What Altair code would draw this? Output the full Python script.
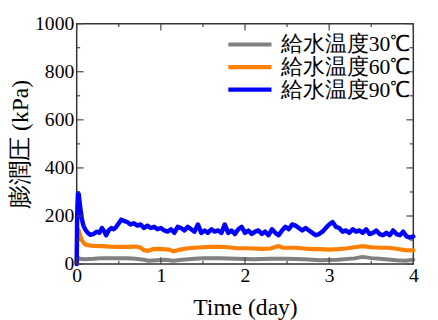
import altair as alt
import pandas as pd

labels = ["給水温度30℃", "給水温度60℃", "給水温度90℃"]
colors = ["#808080", "#ff8000", "#0000ff"]
widths = [4, 4.5, 6.5]

t30 = [0, 0.01, 0.03, 0.1, 0.2, 0.3, 0.4, 0.5, 0.6, 0.7, 0.8, 0.85, 0.95, 1.05,
       1.15, 1.25, 1.4, 1.5, 1.7, 1.9, 2.1, 2.3, 2.5, 2.7, 2.9, 3.1, 3.3, 3.4,
       3.5, 3.6, 3.8, 3.9, 4.0]
v30 = [0, 30, 22, 20, 22, 25, 24, 25, 24, 22, 18, 14, 16, 18,
       14, 18, 22, 24, 24, 22, 20, 22, 22, 20, 16, 18, 24, 30,
       25, 22, 16, 14, 18]

t60 = [0, 0.005, 0.02, 0.04, 0.06, 0.08, 0.1, 0.15, 0.2, 0.3, 0.4, 0.5, 0.6,
       0.7, 0.75, 0.8, 0.85, 0.9, 1.0, 1.1, 1.15, 1.2, 1.3, 1.4, 1.5, 1.6,
       1.7, 1.8, 1.9, 2.0, 2.1, 2.2, 2.3, 2.4, 2.45, 2.6, 2.7, 2.8, 2.9, 3.0,
       3.1, 3.2, 3.3, 3.4, 3.5, 3.6, 3.7, 3.8, 3.9, 4.0]
v60 = [0, 100, 145, 120, 100, 90, 82, 78, 76, 75, 73, 72, 72,
       73, 70, 58, 55, 62, 63, 60, 53, 58, 65, 68, 70, 72,
       72, 70, 66, 66, 65, 63, 65, 75, 68, 68, 65, 62, 62, 60,
       62, 65, 70, 75, 70, 68, 68, 64, 58, 57]

t90 = [0, 0.005, 0.015, 0.025, 0.04, 0.06, 0.08, 0.1, 0.13, 0.16, 0.2, 0.24,
       0.27, 0.3, 0.33, 0.35, 0.38, 0.41, 0.44, 0.47, 0.5, 0.53, 0.56, 0.6,
       0.64, 0.68, 0.72, 0.76, 0.8, 0.84, 0.88, 0.92, 0.96, 1.0, 1.04, 1.08,
       1.12, 1.16, 1.2, 1.24, 1.28, 1.32, 1.36, 1.4, 1.44, 1.48, 1.52, 1.56,
       1.6, 1.64, 1.68, 1.72, 1.76, 1.8, 1.84, 1.88, 1.92, 1.96, 2.0, 2.04,
       2.08, 2.12, 2.16, 2.2, 2.24, 2.28, 2.32, 2.36, 2.4, 2.44, 2.48, 2.52,
       2.56, 2.6, 2.64, 2.68, 2.72, 2.76, 2.8, 2.84, 2.88, 2.92, 2.96, 3.0,
       3.04, 3.08, 3.12, 3.16, 3.2, 3.24, 3.28, 3.32, 3.36, 3.4, 3.44, 3.48,
       3.52, 3.56, 3.6, 3.64, 3.68, 3.72, 3.76, 3.8, 3.84, 3.88, 3.92, 3.96, 4.0]
v90 = [0, 200, 295, 290, 240, 190, 160, 145, 130, 122, 125, 135,
       130, 150, 135, 120, 140, 150, 145, 155, 170, 185, 180, 175,
       165, 170, 160, 165, 150, 160, 150, 155, 145, 150, 140, 135,
       145, 130, 155, 150, 140, 155, 145, 135, 165, 130, 140, 130,
       145, 135, 140, 130, 165, 130, 140, 125, 145, 155, 130, 140,
       125, 135, 140, 125, 135, 120, 145, 130, 120, 140, 155, 145,
       165, 160, 150, 140, 150, 140, 130, 120, 125, 135, 150, 165,
       175, 155, 150, 135, 140, 130, 145, 135, 140, 130, 145, 125,
       130, 140, 125, 120, 130, 120, 140, 125, 120, 135, 115, 110, 115]

x_major = [0, 1, 2, 3, 4]
x_minor = [0.5, 1.5, 2.5, 3.5]
y_major = [0, 200, 400, 600, 800, 1000]
y_minor = [100, 300, 500, 700, 900]

rows = []
for i, (ts, vs) in enumerate([(t30, v30), (t60, v60), (t90, v90)]):
    for t, v in zip(ts, vs):
        rows.append({"series": labels[i], "t": t, "v": v})
df = pd.DataFrame(rows)

W, H = 343, 245
FONT = "Times New Roman"
xs = alt.Scale(domain=[0, 4], nice=False, zero=False)
ys = alt.Scale(domain=[0, 1000], nice=False)

x_axis = alt.Axis(values=x_major, ticks=False, domain=False, grid=False,
                  labelFont=FONT, labelFontSize=20, labelColor="#000", labelFlush=False,
                  labelPadding=2, title="Time (day)", titleFont=FONT,
                  titleFontSize=24, titleFontWeight="normal",
                  titleColor="#000", titlePadding=10, format="d")
y_axis = alt.Axis(values=y_major, ticks=False, domain=False, grid=False,
                  labelFont=FONT, labelFontSize=20, labelColor="#000", labelFlush=False,
                  labelPadding=3, title="膨潤圧 (kPa)", titleFont=FONT,
                  titleFontSize=24, titleFontWeight="normal",
                  titleColor="#000", titlePadding=2, format="d")

lines = alt.Chart(df).mark_line(strokeJoin="round", strokeCap="round").encode(
    x=alt.X("t:Q", scale=xs, axis=x_axis, title="Time (day)"),
    y=alt.Y("v:Q", scale=ys, axis=y_axis, title="膨潤圧 (kPa)"),
    color=alt.Color("series:N", scale=alt.Scale(domain=labels, range=colors),
                    legend=alt.Legend(title=None, orient="none", legendX=152, legendY=10,
                                      symbolType="stroke", symbolSize=1936, symbolStrokeWidth=4,
                                      labelFont=FONT, labelFontSize=22, labelColor="#000",
                                      labelOffset=7, rowPadding=0, clipHeight=22.5,
                                      labelLimit=300)),
    strokeWidth=alt.StrokeWidth("series:N", scale=alt.Scale(domain=labels, range=widths), legend=None),
    detail="series:N",
)


def xticks(vals, length, top):
    d = pd.DataFrame({"v": vals})
    y0, y1 = (0, length) if top else (H, H - length)
    return alt.Chart(d).mark_rule(color="#444", strokeWidth=1.2).encode(
        x=alt.X("v:Q", scale=xs, axis=x_axis, title="Time (day)"),
        y=alt.value(y0), y2=alt.value(y1))


def yticks(vals, length, right):
    d = pd.DataFrame({"v": vals})
    x0, x1 = (W, W - length) if right else (0, length)
    return alt.Chart(d).mark_rule(color="#444", strokeWidth=1.2).encode(
        y=alt.Y("v:Q", scale=ys, axis=y_axis, title="膨潤圧 (kPa)"),
        x=alt.value(x0), x2=alt.value(x1))


ticks = [
    xticks(x_major, 7, False), xticks(x_minor, 3.5, False),
    xticks(x_major, 7, True), xticks(x_minor, 3.5, True),
    yticks(y_major, 7, False), yticks(y_minor, 3.5, False),
    yticks(y_major, 7, True), yticks(y_minor, 3.5, True),
]

chart = alt.layer(lines, *ticks).properties(
    width=W, height=H, background="white",
    autosize=alt.AutoSizeParams(type="none"),
    padding={"left": 70, "top": 13, "right": 17, "bottom": 54},
).configure(font=FONT).configure_view(stroke="#333", strokeWidth=1.5)

chart.save("out.html", embed_options={"renderer": "svg", "actions": False})
